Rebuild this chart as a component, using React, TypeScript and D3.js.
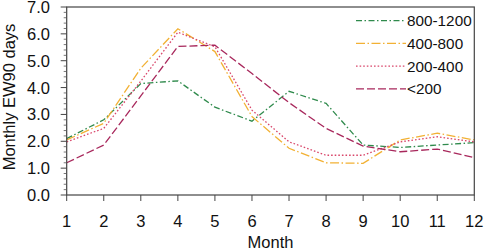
import React from "react";
import * as d3 from "d3";

const months = [1, 2, 3, 4, 5, 6, 7, 8, 9, 10, 11, 12];
const s800_1200 = [2.1, 2.8, 4.15, 4.25, 3.27, 2.75, 3.86, 3.41, 1.86, 1.77, 1.86, 1.95];
const s400_800 = [2.05, 2.67, 4.72, 6.19, 5.34, 2.92, 1.74, 1.2, 1.18, 2.05, 2.3, 2.05];
const s200_400 = [1.98, 2.48, 4.24, 6.06, 5.52, 3.16, 1.98, 1.48, 1.48, 1.98, 2.17, 1.98];
const sLt200 = [1.2, 1.86, 3.69, 5.53, 5.58, 4.52, 3.44, 2.48, 1.82, 1.61, 1.71, 1.39];
const seriesNames = ["800-1200", "400-800", "200-400", "<200"];
const yTicks = [0, 1, 2, 3, 4, 5, 6, 7];

const W = 484, H = 251;
const M = { left: 66.7, right: 474.3, top: 7, bottom: 195 };

export default function App() {
  const x = d3.scaleLinear().domain([1, 12]).range([M.left, M.right]);
  const y = d3.scaleLinear().domain([0, 7]).range([M.bottom, M.top]);
  const line = d3.line<number>().x((_, i) => x(months[i])).y((d) => y(d));
  const styles = [
    { color: "#2f8a4c", dash: "6,2.5,1.5,2.5" },
    { color: "#f2b134", dash: "9,2.5,1.5,2.5" },
    { color: "#d9476b", dash: "1.6,2" },
    { color: "#a8285c", dash: "8,3" },
  ];
  const data = [s800_1200, s400_800, s200_400, sLt200];
  const minor = d3.range(0, 7.001, 0.2).filter((v) => Math.abs(v - Math.round(v)) > 0.01);
  const font = "Helvetica, Arial, 'Liberation Sans', sans-serif";
  return (
    <svg width={W} height={H} style={{ position: "absolute", left: 0, top: 0 }} fontFamily={font}>
      <rect width={W} height={H} fill="#fff" />
      {data.map((d, i) => (
        <path key={i} d={line(d) || ""} fill="none" stroke={styles[i].color} strokeWidth={1.3} strokeDasharray={styles[i].dash} />
      ))}
      <rect x={M.left} y={M.top} width={M.right - M.left} height={M.bottom - M.top} fill="none" stroke="#444" strokeWidth={1.2} />
      {yTicks.map((t) => (
        <g key={t}>
          <line x1={M.left - 6} x2={M.left} y1={y(t)} y2={y(t)} stroke="#444" strokeWidth={1} />
          <text x={50} y={y(t)} dy="0.36em" textAnchor="end" fontSize={16.5} fill="#111">{t.toFixed(1)}</text>
        </g>
      ))}
      {minor.map((t, i) => (
        <line key={i} x1={M.left - 3} x2={M.left} y1={y(t)} y2={y(t)} stroke="#555" strokeWidth={0.8} />
      ))}
      {months.map((m) => (
        <g key={m}>
          <line x1={x(m)} x2={x(m)} y1={M.bottom} y2={M.bottom + 6} stroke="#444" strokeWidth={1} />
          <text x={x(m)} y={227} textAnchor="middle" fontSize={16.5} fill="#111">{m}</text>
        </g>
      ))}
      <text x={(M.left + M.right) / 2} y={247.5} textAnchor="middle" fontSize={16.5} fill="#111">Month</text>
      <text transform={`translate(15,${(M.top + M.bottom) / 2 - 4}) rotate(-90)`} textAnchor="middle" fontSize={16.5} fill="#111">Monthly EW90 days</text>
      {seriesNames.map((n, i) => {
        const ly = 20.7 + i * 22.7;
        return (
          <g key={n}>
            <line x1={356} x2={406} y1={ly} y2={ly} stroke={styles[i].color} strokeWidth={1.3} strokeDasharray={styles[i].dash} />
            <text x={407} y={ly} dy="0.36em" fontSize={15.3} fill="#111">{n}</text>
          </g>
        );
      })}
    </svg>
  );
}
